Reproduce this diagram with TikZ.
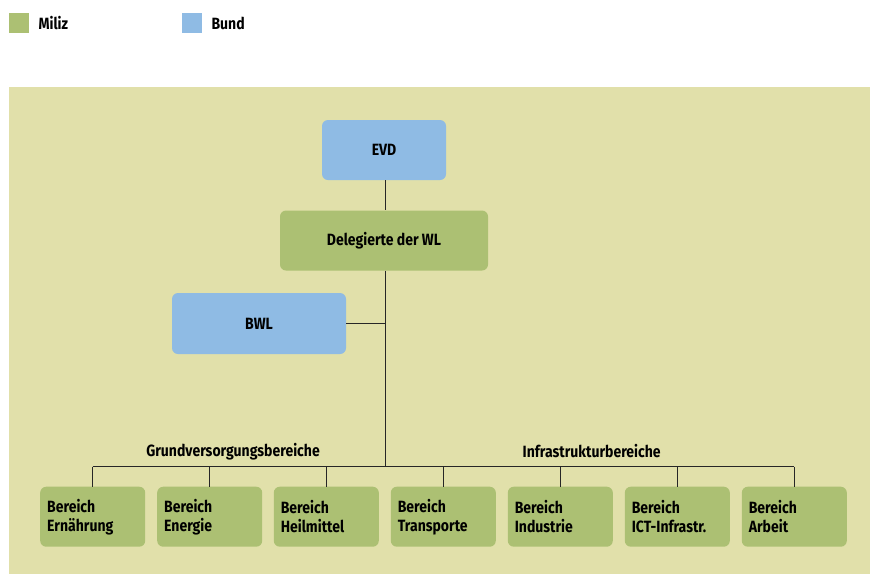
\documentclass[tikz,border=0pt]{standalone}
\usepackage{fontspec}
\setmainfont{Fira Sans}[FakeStretch=0.86]
\definecolor{miliz}{RGB}{172,192,115}
\definecolor{bund}{RGB}{143,187,228}
\definecolor{panel}{RGB}{225,224,170}
\begin{document}
\begin{tikzpicture}[x=1pt,y=-1pt,
  every node/.style={font=\fontsize{16.3}{19}\selectfont\bfseries, text=black},
  box/.style={rounded corners=6pt, inner sep=0pt},
  topbox/.style={box, minimum height=60pt},
  unitbox/.style={box, fill=miliz, minimum width=105pt, minimum height=60pt, text width=91pt, align=left},
  conn/.style={draw=black!85, line width=1pt}]
\useasboundingbox (0,0) rectangle (870,574);
% legend
\fill[miliz] (9,13) rectangle (29,33);
\node[anchor=west] (lm) at (35,23) {Miliz};
\fill[bund] (182,13) rectangle (202,33);
\node[anchor=west] (lb) at (208,23) {Bund};
% panel
\fill[panel] (9,87) rectangle (870,574);
% top nodes
\node[topbox, fill=bund, minimum width=124pt] (evd) at (384,150) {EVD};
\node[topbox, fill=miliz, minimum width=208pt] (del) at (384,240.5) {Delegierte der WL};
\node[topbox, fill=bund, minimum width=174pt, minimum height=61pt] (bwl) at (259,323.5) {BWL};
% bottom units
\foreach \n/\x/\t in {u1/92.7/Ernährung, u2/209.7/Energie, u3/326.3/Heilmittel, u4/443.3/Transporte, u5/560.3/Industrie, u6/677.3/ICT-Infrastr., u7/794.3/Arbeit}{
  \node[unitbox] (\n) at (\x,516.7) {Bereich\\\t};
}
\coordinate (bar) at (385,466.7);
\coordinate (bwlj) at (385,323.5);
\draw[conn] (evd.south -| 385,0) -- (del.north -| 385,0);
\draw[conn] (del.south -| 385,0) -- (bar);
\draw[conn] (bwl.east) -- (bwlj);
\draw[conn] (u1.north |- bar) -- (u7.north |- bar);
\foreach \n in {u1,u2,u3,u4,u5,u6,u7}{
  \draw[conn] (\n.north |- bar) -- (\n.north);
}
\node (g) at (233,451.5) {Grundversorgungsbereiche};
\node (i) at (591.7,451.5) {Infrastrukturbereiche};
\end{tikzpicture}
\end{document}
